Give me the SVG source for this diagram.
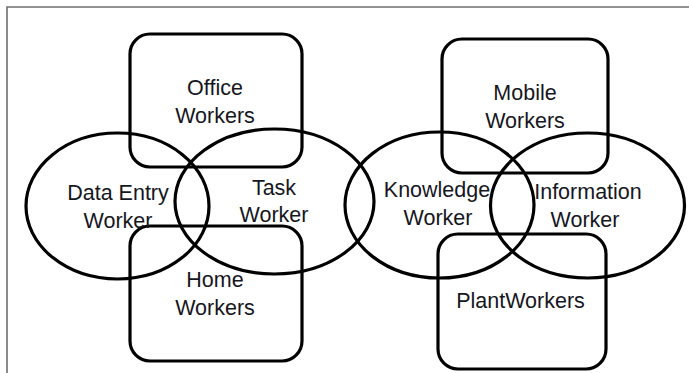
<svg xmlns="http://www.w3.org/2000/svg" width="689" height="373" viewBox="0 0 689 373">
  <style>
    .shape { fill: none; stroke: #000; stroke-width: 3.2; }
    .label { font-family: "Liberation Sans", Arial, sans-serif; font-size: 21.5px; fill: #16161e; text-anchor: middle; }
    .frame { fill: none; stroke: #6e6e6e; stroke-width: 1.6; }
  </style>
  <rect width="689" height="373" fill="#ffffff"/>
  <!-- page frame: left and top edges only -->
  <path class="frame" d="M7,373 V7 H689"/>

  <!-- left cluster -->
  <g id="office-workers">
    <rect class="shape" x="130" y="34" width="172" height="133" rx="20"/>
    <text class="label" x="215" y="95">Office</text>
    <text class="label" x="215" y="123">Workers</text>
  </g>
  <g id="home-workers">
    <rect class="shape" x="130" y="226" width="172" height="135" rx="20"/>
    <text class="label" x="215" y="287">Home</text>
    <text class="label" x="215" y="315">Workers</text>
  </g>
  <g id="data-entry-worker">
    <ellipse class="shape" cx="117.5" cy="206" rx="91.5" ry="73"/>
    <text class="label" x="118" y="200">Data Entry</text>
    <text class="label" x="118" y="228">Worker</text>
  </g>
  <g id="task-worker">
    <ellipse class="shape" cx="274.5" cy="201.5" rx="99.5" ry="72.5"/>
    <text class="label" x="274" y="195">Task</text>
    <text class="label" x="274" y="222">Worker</text>
  </g>

  <!-- right cluster -->
  <g id="mobile-workers">
    <rect class="shape" x="442" y="39" width="166" height="134" rx="20"/>
    <text class="label" x="525" y="100">Mobile</text>
    <text class="label" x="525" y="128">Workers</text>
  </g>
  <g id="plant-workers">
    <rect class="shape" x="438" y="234" width="168" height="135" rx="20"/>
    <text class="label" x="520.5" y="308">PlantWorkers</text>
  </g>
  <g id="knowledge-worker">
    <ellipse class="shape" cx="439.5" cy="205" rx="94.5" ry="73"/>
    <text class="label" x="437" y="197">Knowledge</text>
    <text class="label" x="438" y="225">Worker</text>
  </g>
  <g id="information-worker">
    <ellipse class="shape" cx="587.5" cy="205.5" rx="97" ry="72.5"/>
    <text class="label" x="588" y="199">Information</text>
    <text class="label" x="585" y="227">Worker</text>
  </g>

  <g id="connectors"/>
</svg>
